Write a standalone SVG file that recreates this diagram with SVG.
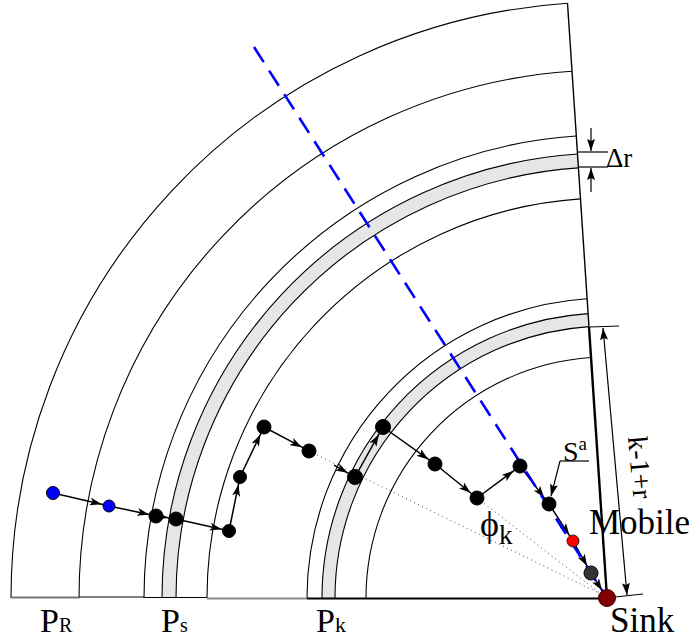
<svg xmlns="http://www.w3.org/2000/svg" width="698" height="640" viewBox="0 0 698 640">
<style>
.arc{fill:none;stroke:#000;stroke-width:1.1}
.band{fill:#e6e6e6;stroke:none}
.edge{fill:none;stroke:#000;stroke-width:1.5;marker-mid:url(#ah)}
.dot{fill:none;stroke:#444;stroke-width:1;stroke-dasharray:1 3.5}
.dim{fill:none;stroke:#000;stroke-width:1.2}
.nb{fill:#000;stroke:#000;stroke-width:1}
.nblue{fill:#0000ff;stroke:#000;stroke-width:1}
</style>
<defs>
<marker id="ah" markerUnits="userSpaceOnUse" markerWidth="12" markerHeight="8" viewBox="0 0 12 8" refX="12" refY="4" orient="auto"><path d="M0,0 L12,4 L0,8 L3,4 z" fill="#000"/></marker>
<marker id="ad" markerUnits="userSpaceOnUse" markerWidth="12" markerHeight="8" viewBox="0 0 12 8" refX="12" refY="4" orient="auto-start-reverse"><path d="M0,0 L12,4 L0,8 L2,4 z" fill="#000"/></marker>
</defs>

<g id="sectors">
<path class="band" d="M162,598 A445,445 0 0 1 577.5,154 L578.4,167.9 A431,431 0 0 0 176,598 Z"/>
<path class="band" d="M322,598 A285,285 0 0 1 588.1,313.6 L589,326.6 A272,272 0 0 0 335,598 Z"/>
<path class="arc" d="M11,598 A596,596 0 0 1 567.5,3.3"/>
<path class="arc" d="M79,598 A528,528 0 0 1 572,71.2"/>
<path class="arc" d="M144,598 A463,463 0 0 1 576.3,136"/>
<path class="arc" d="M162,598 A445,445 0 0 1 577.5,154"/>
<path class="arc" d="M176,598 A431,431 0 0 1 578.4,167.9"/>
<path class="arc" d="M207,598 A400,400 0 0 1 580.5,198.9"/>
<path class="arc" d="M307,598 A300,300 0 0 1 587.1,298.7"/>
<path class="arc" d="M322,598 A285,285 0 0 1 588.1,313.6"/>
<path class="arc" d="M335,598 A272,272 0 0 1 589,326.6"/>
<path class="arc" d="M366,598 A241,241 0 0 1 591,357.5"/>
<line x1="567.5" y1="3.3" x2="589" y2="327" stroke="#000" stroke-width="1.4"/>
<line x1="589" y1="327" x2="607" y2="598" stroke="#000" stroke-width="2.4"/>
<line x1="11" y1="597.5" x2="79" y2="597.5" stroke="#777" stroke-width="1.8"/>
<line x1="79" y1="597" x2="144" y2="597" stroke="#000" stroke-width="1"/>
<line x1="144" y1="597.5" x2="207" y2="597.5" stroke="#000" stroke-width="1.2"/>
<line x1="207" y1="598.5" x2="307" y2="598.5" stroke="#888" stroke-width="2"/>
<line x1="307" y1="598.5" x2="607" y2="598.5" stroke="#000" stroke-width="1.8"/>
</g>

<g id="dimensions">
<line class="dim" x1="578" y1="152" x2="608" y2="152"/>
<line class="dim" x1="578" y1="167" x2="608" y2="167"/>
<line class="dim" x1="591" y1="128" x2="591" y2="151" marker-end="url(#ad)"/>
<line class="dim" x1="591" y1="192" x2="591" y2="168" marker-end="url(#ad)"/>
<line class="dim" x1="590" y1="327" x2="619" y2="326"/>
<line class="dim" x1="615" y1="597" x2="643" y2="594"/>
<line class="dim" x1="603" y1="328" x2="627" y2="595" marker-start="url(#ad)" marker-end="url(#ad)"/>
</g>

<g id="connectors">
<line class="dot" x1="309" y1="451" x2="601" y2="594"/>
<line class="dot" x1="477" y1="498" x2="601" y2="594"/>
<path class="edge" d="M53,493 L101.7,504.2 L109,506"/>
<path class="edge" d="M109,506 L149.2,514.5 L156,516"/>
<path class="edge" d="M156,516 L168.1,517.8 L176,519"/>
<path class="edge" d="M176,519 L221.7,529.3 L229,531"/>
<path class="edge" d="M229,531 L238.5,484.4 L240,477"/>
<path class="edge" d="M240,477 L260.5,434.2 L264,427"/>
<path class="edge" d="M264,427 L301.9,447.2 L309,451"/>
<path class="edge" d="M334,465.2 L347.6,472.8 L355,477"/>
<path class="edge" d="M355,477 L378.8,434.4 L383,427"/>
<path class="edge" d="M383,427 L428.5,459.4 L435,464"/>
<path class="edge" d="M435,464 L470.8,493 L477,498"/>
<path class="edge" d="M477,498 L513.6,470.8 L520,466"/>
<path class="edge" d="M520,466 L544.1,497.6 L549,504"/>
<path class="edge" d="M549,504 L569.2,535.1 L573,541"/>
<path class="edge" d="M573,541 L587.1,566 L591,573"/>
<path class="edge" d="M591,573 L602.1,590.4 L607,598"/>
<line x1="254" y1="47" x2="607" y2="598" stroke="#0000ff" stroke-width="2.6" stroke-dasharray="18 10"/>
<polyline fill="none" stroke="#000" stroke-width="1.2" points="589,461 560,461"/>
<line x1="560" y1="461" x2="551" y2="496.2" stroke="#000" stroke-width="1.2" marker-end="url(#ad)"/>
</g>

<g id="n1"><circle class="nblue" cx="53" cy="493" r="6.5"/></g>
<g id="n2"><circle class="nblue" cx="109" cy="506" r="6"/></g>
<g id="n3"><circle class="nb" cx="156" cy="516" r="7"/></g>
<g id="n4"><circle class="nb" cx="176" cy="519" r="7"/></g>
<g id="n5"><circle class="nb" cx="229" cy="531" r="6.5"/></g>
<g id="n6"><circle class="nb" cx="240" cy="477" r="6.5"/></g>
<g id="n7"><circle class="nb" cx="264" cy="427" r="7"/></g>
<g id="n8"><circle class="nb" cx="309" cy="451" r="7"/></g>
<g id="n9"><circle class="nb" cx="355" cy="477" r="7.5"/></g>
<g id="n10"><circle class="nb" cx="383" cy="427" r="7.5"/></g>
<g id="n11"><circle class="nb" cx="435" cy="464" r="7"/></g>
<g id="n12"><circle class="nb" cx="477" cy="498" r="7"/></g>
<g id="n13"><circle class="nb" cx="520" cy="466" r="7"/></g>
<g id="n14"><circle class="nb" cx="549" cy="504" r="7"/></g>
<g id="n15"><circle cx="573" cy="541" r="6" fill="#ff0000" stroke="#222" stroke-width="1"/></g>
<g id="n16"><circle cx="591" cy="573" r="7" fill="#333" stroke="#000" stroke-width="1"/></g>
<g id="sink"><circle cx="607" cy="598" r="8.5" fill="#800000" stroke="#3a0000" stroke-width="1"/></g>

<g id="labels" fill="#000">
<text font-family="Liberation Serif, serif" x="40" y="632" font-size="34">P<tspan font-size="20">R</tspan></text>
<text font-family="Liberation Serif, serif" x="161" y="632" font-size="34">P<tspan font-size="20">s</tspan></text>
<text font-family="Liberation Serif, serif" x="316" y="632" font-size="34">P<tspan font-size="22">k</tspan></text>
<text font-family="Liberation Serif, serif" x="610" y="632" font-size="35">Sink</text>
<text font-family="Liberation Serif, serif" x="589" y="534" font-size="35">Mobile</text>
<text font-family="Liberation Serif, serif" x="606" y="167" font-size="27">Δr</text>
<text font-family="Liberation Serif, serif" x="563" y="461" font-size="28">S<tspan font-size="19" dy="-11">a</tspan></text>
<text font-family="Liberation Serif, serif" x="480" y="536" font-size="36">ϕ<tspan font-size="27" dy="8">k</tspan></text>
<text font-family="Liberation Serif, serif" font-size="28" transform="translate(628,437) rotate(85)">k-1+r</text>
</g>
</svg>
